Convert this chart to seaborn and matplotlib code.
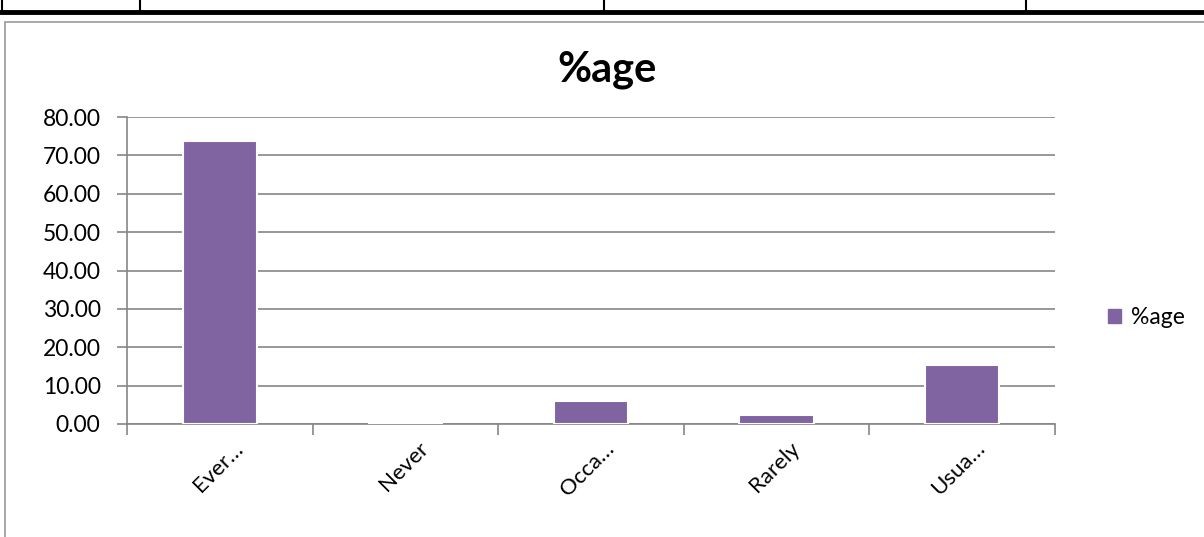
import numpy as np
import pandas as pd
import matplotlib
matplotlib.use("Agg")
import matplotlib.pyplot as plt
import matplotlib.transforms as mtransforms
from matplotlib.lines import Line2D
from matplotlib.patches import Rectangle, Patch
from matplotlib.ticker import FuncFormatter, MultipleLocator
import seaborn as sns

# data
categories = ["Ever…", "Never", "Occa…", "Rarely", "Usua…"]
pct_values = [73.8, 0.0, 6.1, 2.4, 15.5]
series_name = "%age"

BAR_COLOR = "#8064A2"
GRID_COLOR = "#868686"

sns.set_theme(style="white")
plt.rcParams["font.family"] = ["Lato", "DejaVu Sans"]
plt.rcParams["text.color"] = "black"
plt.rcParams["xtick.labelcolor"] = "black"
plt.rcParams["ytick.labelcolor"] = "black"

df = pd.DataFrame({"category": categories, "value": pct_values})

W, H = 1204, 537
fig = plt.figure(figsize=(W / 100, H / 100), dpi=100)

# table border remnants at the top of the page
fig.add_artist(Line2D([0, 1], [1 - 12 / H, 1 - 12 / H], color="black", lw=3.5))
for xp in [2, 140, 604, 1026]:
    fig.add_artist(Line2D([xp / W, xp / W], [1 - 12 / H, 1.0], color="black", lw=1.5))

# chart frame
fig.add_artist(Rectangle((5 / W, -0.01), 1.2, 1 - 22 / H + 0.01, transform=fig.transFigure,
                         fill=False, edgecolor="#9a9a9a", lw=1.2))

left, right, top, bottom = 127, 1055, 117, 424
ax = fig.add_axes([left / W, 1 - bottom / H, (right - left) / W, (bottom - top) / H])

sns.barplot(data=df, x="category", y="value", color=BAR_COLOR, saturation=1,
            width=0.4, edgecolor="white", linewidth=1.5, ax=ax, zorder=3)

ax.set_ylim(0, 80)
ax.set_xlim(-0.5, len(categories) - 0.5)
ax.yaxis.set_major_locator(MultipleLocator(10))
ax.yaxis.set_major_formatter(FuncFormatter(lambda v, _: f"{v:.2f}"))
ax.grid(axis="y", color=GRID_COLOR, lw=1.2, zorder=0)
ax.set_axisbelow(True)

for side in ["top", "right"]:
    ax.spines[side].set_visible(False)
for side in ["left", "bottom"]:
    ax.spines[side].set_color(GRID_COLOR)
    ax.spines[side].set_linewidth(1.2)

ax.set_xlabel("")
ax.set_ylabel("")
ax.tick_params(axis="y", which="major", left=True, length=7, color=GRID_COLOR,
               width=1.2, labelsize=16.5, labelcolor="black", pad=12)

# category labels at the centres, tick marks at the boundaries
ax.set_xticks(range(len(categories)))
ax.set_xticklabels(categories, rotation=45, ha="right", va="top", fontsize=16)
ax.tick_params(axis="x", which="major", length=0, pad=8)
offset = mtransforms.ScaledTranslation(27 / 100, -3 / 100, fig.dpi_scale_trans)
for lab in ax.get_xticklabels():
    lab.set_transform(lab.get_transform() + offset)
ax.set_xticks(np.arange(-0.5, len(categories), 1.0), minor=True)
ax.tick_params(axis="x", which="minor", bottom=True, length=8, color=GRID_COLOR, width=1.2)

fig.text(607 / W, 1 - 70 / H, series_name, ha="center", va="center",
         fontsize=30, fontweight="bold")

handle = Patch(facecolor=BAR_COLOR, edgecolor=BAR_COLOR)
fig.legend([handle], [series_name], loc="center left",
           bbox_to_anchor=(1108 / W, 1 - 318 / H), frameon=False, fontsize=16.5,
           borderpad=0, borderaxespad=0,
           handlelength=0.55, handleheight=0.55, handletextpad=0.45)

fig.savefig("out.png", dpi=100)
